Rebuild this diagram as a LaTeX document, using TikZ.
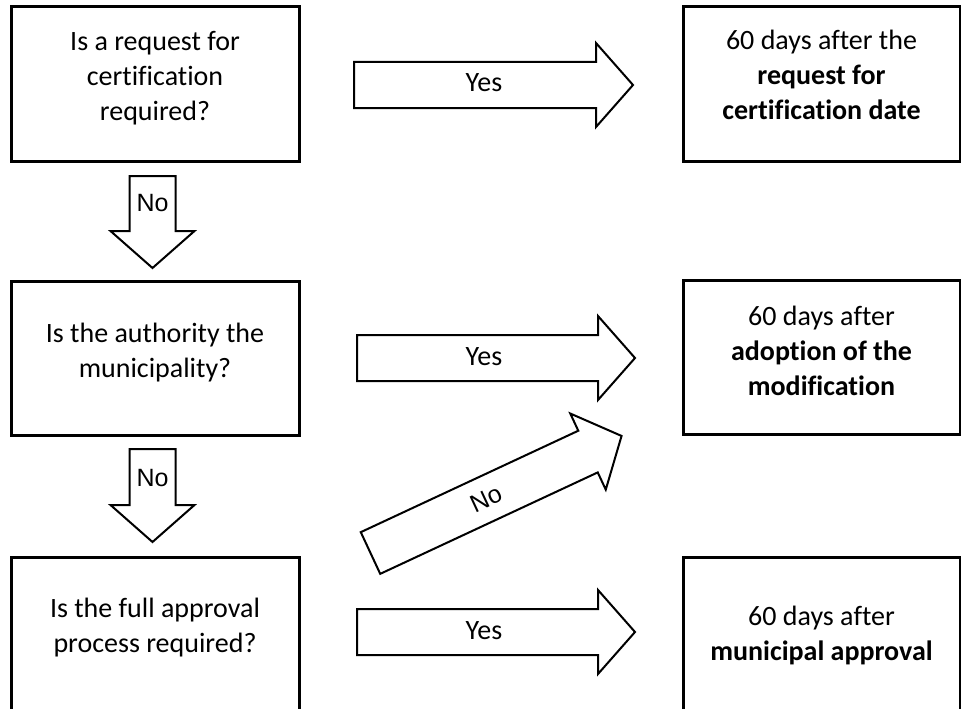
\documentclass[tikz,border=0pt]{standalone}
\usepackage{fontspec}
\setmainfont{Carlito}[Ligatures=NoCommon]
\newfontfamily\arialfont{Liberation Sans}
\newcommand\mytop{\rule{0pt}{21pt}}
\newcommand\mybot{\rule[-7pt]{0pt}{7pt}}
\begin{document}
\begin{tikzpicture}[x=1pt,y=-1pt,
  box/.style={draw, line width=3pt, minimum width=288pt, minimum height=154pt, inner sep=0pt},
  rbox/.style={box, minimum width=277pt},
  txt/.style={align=center, font=\fontsize{28}{35}\selectfont, inner sep=0pt},
  arrowline/.style={draw, line width=2pt, fill=white},
  lbl/.style={font=\fontsize{28}{34}\selectfont, inner sep=0pt},
  nolbl/.style={font=\arialfont\fontsize{25}{30}\selectfont, inner sep=0pt},
  pics/blockarrow/.style={code={
    \path[arrowline] (0,-23) -- ({#1-37},-23) -- ({#1-37},-42) -- (#1,0)
      -- ({#1-37},42) -- ({#1-37},23) -- (0,23) -- cycle;}}
]
\path[use as bounding box, fill=white] (0,0) rectangle (961,709);
\clip (0,0) rectangle (961,709);

% question boxes
\node[box] (q1) at (155,84) {};
\node[box] (q2) at (155,358) {};
\node[box] (q3) at (155,634) {};
% answer boxes
\node[rbox] (a1) at (821.5,84) {};
\node[rbox] (a2) at (821.5,357) {};
\node[rbox] (a3) at (821.5,634) {};

% texts
\node[txt] (q1t) at ([yshift=6pt]q1.center) {\mytop Is a request for\\certification\\required?\mybot};
\node[txt] (q2t) at ([yshift=5.5pt]q2.center) {\mytop Is the authority the\\municipality?\mybot};
\node[txt] (q3t) at ([yshift=6.5pt]q3.center) {\mytop Is the full approval\\process required?\mybot};
\node[txt] (a1t) at ([yshift=7pt]a1.center) {\mytop 60 days after the\\\textbf{request for}\\\textbf{certification date}\mybot};
\node[txt] (a2t) at ([yshift=4pt]a2.center) {\mytop 60 days after\\\textbf{adoption of the}\\\textbf{modification}\mybot};
\node[txt] (a3t) at ([yshift=-1.5pt]a3.center) {\mytop 60 days after\\\textbf{municipal approval}\mybot};

% block arrows
\pic at (354,85) {blockarrow=279};
\pic at (357,358) {blockarrow=278};
\pic at (357,632) {blockarrow=278};
\pic[rotate=-90] at (152.5,176) {blockarrow=92};
\pic[rotate=-90] at (152.5,449) {blockarrow=93};
\pic[rotate=25] at (370.5,553) {blockarrow=277};

% arrow labels
\node[lbl] (y1) at (484,83) {Yes};
\node[lbl] (y2) at (484,357) {Yes};
\node[lbl] (y3) at (484,631) {Yes};
\node[nolbl] (n1) at (152.5,203.5) {No};
\node[nolbl] (n2) at (152.5,478) {No};
\node[nolbl, rotate=25] (n3) at (486,499) {No};
\end{tikzpicture}
\end{document}
